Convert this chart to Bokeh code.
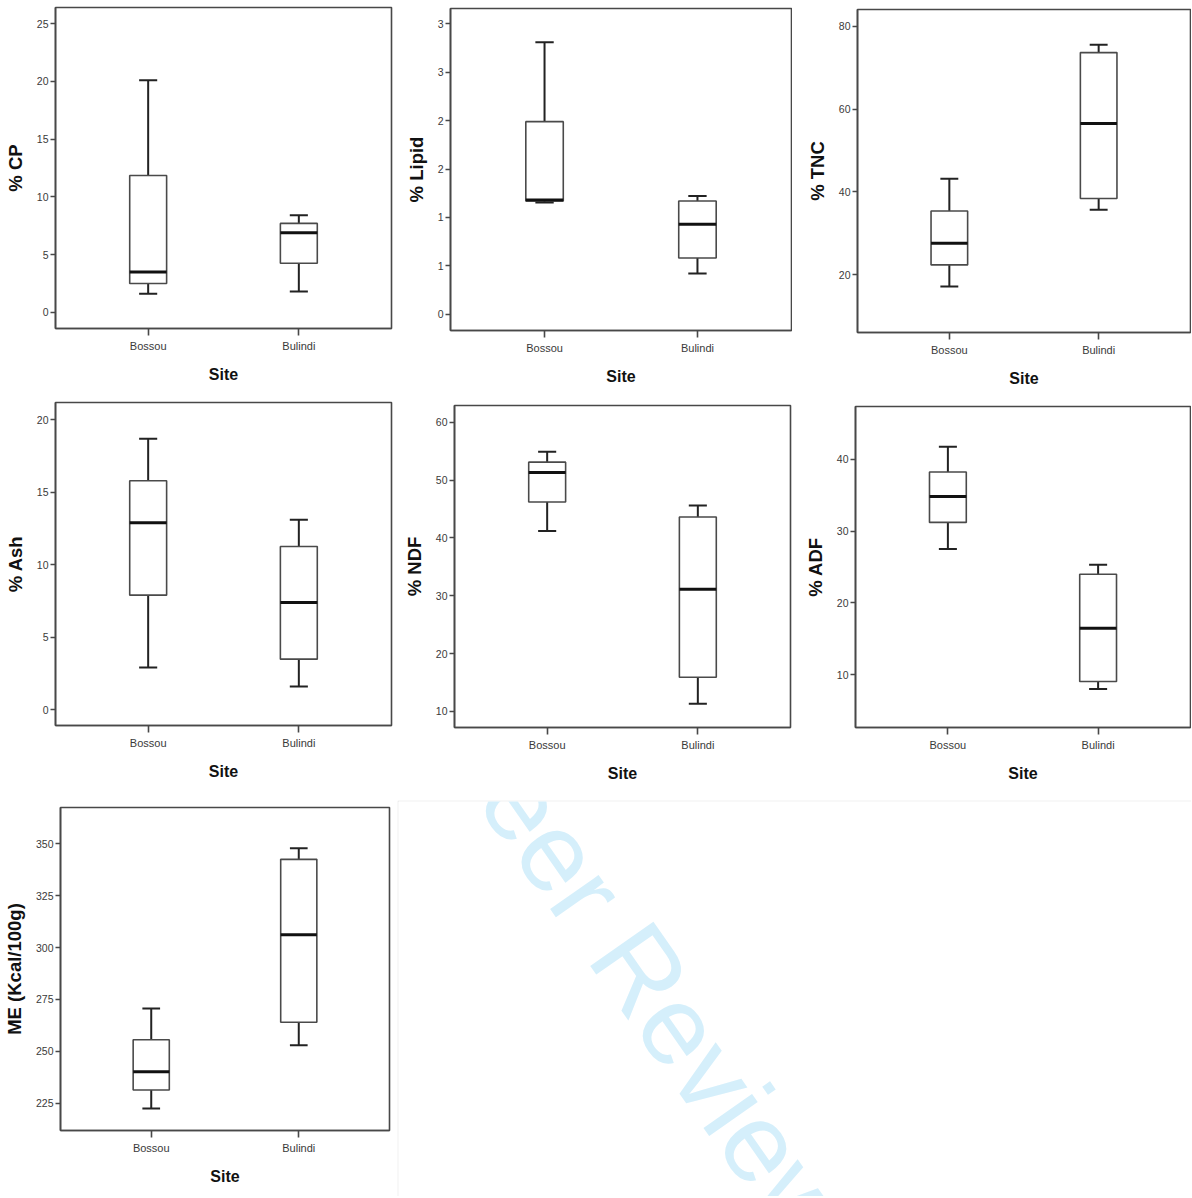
from bokeh.plotting import figure
from bokeh.models import FixedTicker, CustomJSTickFormatter, Range1d, Label, ColumnDataSource
from bokeh.transform import dodge
from bokeh.layouts import row, column
from bokeh.embed import file_html
from bokeh.resources import INLINE

# ---------------- data ----------------
sites = ["Bossou", "Bulindi"]
site_pos = [1, 2]

cp_low = [1.6, 1.8]
cp_q1 = [2.5, 4.25]
cp_median = [3.5, 6.9]
cp_q3 = [11.85, 7.7]
cp_high = [20.1, 8.4]

lipid_low = [1.155, 0.42]
lipid_q1 = [1.17, 0.58]
lipid_median = [1.18, 0.93]
lipid_q3 = [1.99, 1.17]
lipid_high = [2.81, 1.22]

tnc_low = [17.2, 35.7]
tnc_q1 = [22.4, 38.4]
tnc_median = [27.6, 56.5]
tnc_q3 = [35.4, 73.6]
tnc_high = [43.2, 75.5]

ash_low = [2.9, 1.6]
ash_q1 = [7.9, 3.48]
ash_median = [12.9, 7.4]
ash_q3 = [15.8, 11.26]
ash_high = [18.7, 13.1]

ndf_low = [41.2, 11.3]
ndf_q1 = [46.2, 15.9]
ndf_median = [51.3, 31.1]
ndf_q3 = [53.1, 43.6]
ndf_high = [54.9, 45.6]

adf_low = [27.5, 8.06]
adf_q1 = [31.2, 9.1]
adf_median = [34.8, 16.5]
adf_q3 = [38.2, 24.0]
adf_high = [41.7, 25.3]

me_low = [222.4, 252.9]
me_q1 = [231.3, 264.0]
me_median = [240.1, 306.2]
me_q3 = [255.6, 342.6]
me_high = [270.7, 348.0]

cp_ticks = [0, 5, 10, 15, 20, 25]
lipid_ticks = [0, 0.5, 1.0, 1.5, 2.0, 2.5, 3.0]
tnc_ticks = [20, 40, 60, 80]
ash_ticks = [0, 5, 10, 15, 20]
ndf_ticks = [10, 20, 30, 40, 50, 60]
adf_ticks = [10, 20, 30, 40]
me_ticks = [225, 250, 275, 300, 325, 350]

x_label = "Site"

FRAME = "#484848"
FONT = "Liberation Sans"


def panel(ylabel, low, q1, med, q3, high, ticks, yr, geom, round_labels=False):
    w, h, l, r, t, b = geom
    p = figure(width=w, height=h, x_range=Range1d(0.385, 2.615), y_range=Range1d(*yr),
               output_backend="svg", toolbar_location=None, frame_align=False,
               min_border_left=l, min_border_right=r, min_border_top=t, min_border_bottom=b)
    p.xgrid.visible = False
    p.ygrid.visible = False
    p.background_fill_color = "white"
    p.border_fill_color = "white"
    p.outline_line_color = FRAME
    p.outline_line_width = 1.6

    src = ColumnDataSource(dict(x=site_pos, low=low, q1=q1, med=med, q3=q3, high=high))
    # whiskers
    p.segment(x0="x", y0="low", x1="x", y1="q1", source=src, line_color="#222222", line_width=2)
    p.segment(x0="x", y0="q3", x1="x", y1="high", source=src, line_color="#222222", line_width=2)
    # caps
    p.segment(x0=dodge("x", -0.06), y0="low", x1=dodge("x", 0.06), y1="low", source=src,
              line_color="#222222", line_width=2)
    p.segment(x0=dodge("x", -0.06), y0="high", x1=dodge("x", 0.06), y1="high", source=src,
              line_color="#222222", line_width=2)
    # boxes
    p.vbar(x="x", width=0.245, bottom="q1", top="q3", source=src, fill_color="white",
           line_color="#4a4a4a", line_width=1.6)
    # medians
    p.segment(x0=dodge("x", -0.1225), y0="med", x1=dodge("x", 0.1225), y1="med", source=src,
              line_color="#111111", line_width=3)

    ya = p.yaxis[0]
    ya.ticker = FixedTicker(ticks=ticks)
    if round_labels:
        ya.formatter = CustomJSTickFormatter(code="return Math.round(tick).toString();")
    ya.axis_label = ylabel
    ya.axis_label_text_font = FONT
    ya.axis_label_text_font_style = "bold"
    ya.axis_label_text_font_size = "18.5px"
    ya.axis_label_text_color = "#111111"
    ya.axis_label_standoff = 8
    ya.major_label_text_font = FONT
    ya.major_label_text_font_size = "10.5px"
    ya.major_label_text_color = "#3a3a3a"
    ya.major_label_standoff = 2
    ya.major_tick_out = 5
    ya.major_tick_in = 0
    ya.minor_tick_out = 0
    ya.minor_tick_in = 0
    ya.axis_line_color = FRAME
    ya.axis_line_width = 1.6
    ya.major_tick_line_color = FRAME
    ya.major_tick_line_width = 1.6

    xa = p.xaxis[0]
    xa.ticker = FixedTicker(ticks=site_pos)
    xa.major_label_overrides = {site_pos[i]: sites[i] for i in range(len(sites))}
    xa.axis_label = x_label
    xa.axis_label_text_font = FONT
    xa.axis_label_text_font_style = "bold"
    xa.axis_label_text_font_size = "16px"
    xa.axis_label_text_color = "#111111"
    xa.axis_label_standoff = 11
    xa.major_label_text_font = FONT
    xa.major_label_text_font_size = "11px"
    xa.major_label_text_color = "#3a3a3a"
    xa.major_label_standoff = 4
    xa.major_tick_out = 7
    xa.major_tick_in = 0
    xa.minor_tick_out = 0
    xa.minor_tick_in = 0
    xa.axis_line_color = FRAME
    xa.axis_line_width = 1.6
    xa.major_tick_line_color = FRAME
    xa.major_tick_line_width = 1.6
    return p


# geometry: (width, height, border_left, border_right, border_top, border_bottom)
p1 = panel("% CP", cp_low, cp_q1, cp_median, cp_q3, cp_high, cp_ticks, (-1.4, 26.4),
           (396, 396, 55, 5, 7, 68))
p2 = panel("% Lipid", lipid_low, lipid_q1, lipid_median, lipid_q3, lipid_high, lipid_ticks,
           (-0.17, 3.16), (396, 396, 54, 1, 8, 66), round_labels=True)
p3 = panel("% TNC", tnc_low, tnc_q1, tnc_median, tnc_q3, tnc_high, tnc_ticks, (6.1, 84.0),
           (399, 396, 65, 1, 9, 64))
p4 = panel("% Ash", ash_low, ash_q1, ash_median, ash_q3, ash_high, ash_ticks, (-1.1, 21.2),
           (396, 404, 55, 5, 6, 75))
p5 = panel("% NDF", ndf_low, ndf_q1, ndf_median, ndf_q3, ndf_high, ndf_ticks, (7.2, 62.9),
           (396, 404, 58, 2, 9, 73))
p6 = panel("% ADF", adf_low, adf_q1, adf_median, adf_q3, adf_high, adf_ticks, (2.7, 47.3),
           (399, 404, 63, 1, 10, 73))
p7 = panel("ME (Kcal/100g)", me_low, me_q1, me_median, me_q3, me_high, me_ticks, (211.8, 367.6),
           (397, 396, 59, 8, 7, 66))

# empty lower-right area with the "For Peer Review" watermark
wm = figure(width=794, height=396, x_range=Range1d(0, 1), y_range=Range1d(0, 1),
            output_backend="svg", toolbar_location=None, frame_align=False,
            x_axis_location=None, y_axis_location=None,
            min_border_left=1, min_border_top=1, min_border_right=0, min_border_bottom=0)
wm.xgrid.visible = False
wm.ygrid.visible = False
wm.border_fill_color = "#e2e2e2"
wm.background_fill_color = "white"
wm.outline_line_color = None
ang = -0.96
ax, ay = 218, 260
wm.add_layout(Label(x=ax, y=ay, x_units="screen", y_units="screen", text="Review",
                    angle=ang, text_align="left", text_baseline="alphabetic",
                    text_font=FONT, text_font_size="112px", text_color="#d5effb"))
wm.add_layout(Label(x=ax - 31 * 0.574, y=ay + 31 * 0.819, x_units="screen", y_units="screen",
                    text="For Peer", angle=ang, text_align="right", text_baseline="alphabetic",
                    text_font=FONT, text_font_size="112px", text_color="#d5effb"))

layout = column(row(p1, p2, p3), row(p4, p5, p6), row(p7, wm))

open("out.html", "w").write(file_html(layout, INLINE))
